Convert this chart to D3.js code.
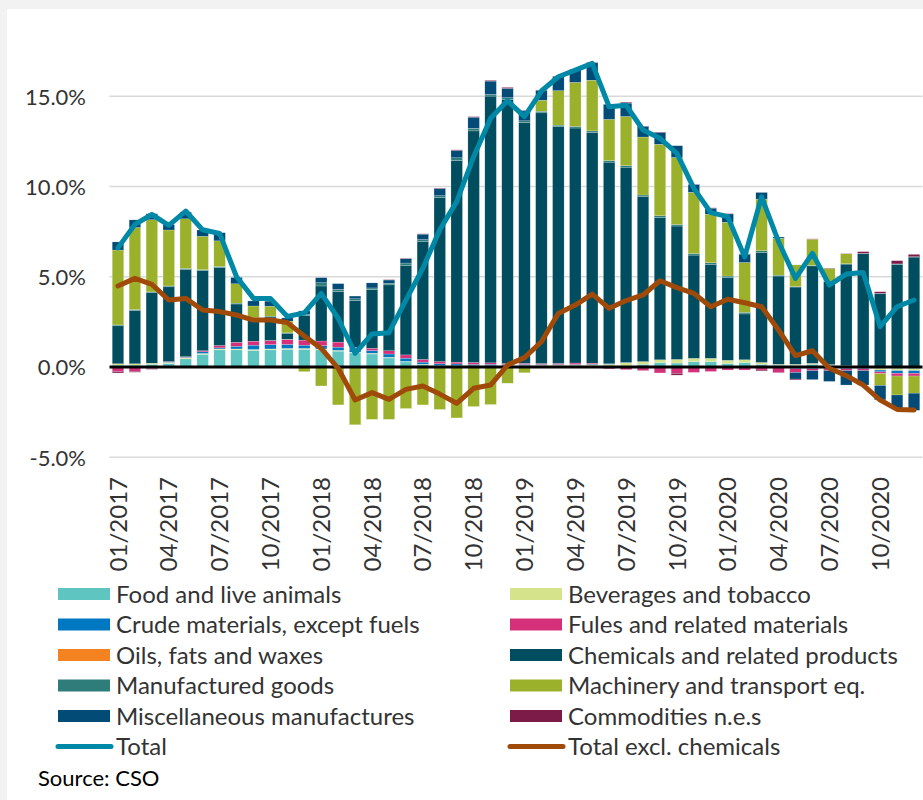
<!DOCTYPE html>
<html>
<head>
<meta charset="utf-8">
<script src="https://cdn.jsdelivr.net/npm/d3@7"></script>
<style>
  body { margin: 0; background: #f2f2f2; }
  svg { display: block; }
  .tick text { font-family: Lato, sans-serif; fill: #333; }
</style>
</head>
<body>
<div class="chart"></div>
<script>
// monthly categories 01/2017 .. 12/2020
var months = [];
[2017, 2018, 2019, 2020].forEach(function (y) {
  ["01","02","03","04","05","06","07","08","09","10","11","12"].forEach(function (m) {
    months.push(m + "/" + y);
  });
});
var tickLabels = months.filter(function (d, i) { return i % 3 == 0; });

// contributions to growth, percentage points
var food = [0.10,0.10,0.15,0.20,0.45,0.70,0.95,0.95,0.92,0.95,0.98,0.98,
  0.95,0.88,0.78,0.72,0.50,0.28,0.12,0.06,0.05,0.05,0.05,0.05,
  0.05,0.05,0.05,0.05,0.05,0.05,0.05,0.15,0.25,0.22,0.30,0.30,
  0.20,0.25,0.15,0.10,0.10,0.15,0.10,0.05,0.03,-0.07,-0.10,-0.10];
var beverages = [0.08,0.08,0.06,0.05,0.06,0.05,0.05,0.05,0.05,0.05,0.05,0.05,
  0.05,0.04,0.04,0.04,0.04,0.03,0.03,0.02,0.02,0.02,0.02,0.02,
  0.03,0.05,0.05,0.05,0.06,0.10,0.18,0.15,0.15,0.20,0.18,0.18,
  0.17,0.15,0.10,0.05,0.05,0.05,0.03,0.02,0.02,-0.10,-0.10,-0.10];
var crude = [0.00,-0.02,0.00,0.02,0.03,0.09,0.06,0.15,0.24,0.24,0.22,0.18,
  0.18,0.18,0.18,0.15,0.18,0.18,0.12,0.10,0.10,0.08,0.08,0.06,
  0.06,0.04,0.04,0.04,0.04,0.03,0.02,-0.05,-0.05,-0.05,-0.05,-0.05,
  -0.05,-0.05,-0.05,-0.05,-0.10,-0.10,-0.10,-0.10,-0.10,-0.10,-0.15,-0.15];
var fuels = [-0.25,-0.22,-0.10,0.03,0.03,0.06,0.13,0.22,0.22,0.22,0.28,0.28,
  0.26,0.28,0.09,0.13,0.18,0.18,0.15,0.12,0.10,0.10,0.08,0.06,
  0.06,0.05,0.06,0.08,0.06,-0.10,-0.15,-0.15,-0.28,-0.30,-0.25,-0.20,
  -0.12,-0.12,-0.12,-0.25,-0.20,-0.10,-0.10,-0.10,-0.10,-0.10,-0.15,-0.15];
var oils = [0,0,0,0,0,0,0,0,0,0.01,0.01,0,
  0,0,0,0,0,0,0,0,0,0,0,0,
  0,0,0,0,0,0,0,0,0,0,0,0,
  0,0,0,0,0,0,0,0,0,0,0,0];
var chemicals = [2.10,2.95,3.90,4.14,4.84,4.44,4.33,2.12,1.25,1.30,0.30,1.35,
  3.05,2.80,2.60,3.25,3.65,4.94,6.52,9.10,11.17,12.83,14.78,14.64,
  13.35,13.89,13.11,13.02,12.78,11.17,10.82,9.14,7.89,7.39,5.72,5.21,
  4.58,2.54,6.10,4.89,4.28,5.40,4.61,5.63,6.23,4.06,5.69,6.09];
var manufactured = [0.05,0.05,0.05,0.05,0.05,0.05,0.05,0.05,0.05,0.05,0.05,0.09,
  0.18,0.13,0.09,0.09,0.09,0.15,0.12,0.09,0.15,0.15,0.09,0.09,
  0.09,0.09,0.09,0.09,0.09,0.09,0.09,0.09,0.09,0.09,0.09,0.09,
  0.09,0.09,0.09,0.05,0.03,0.03,0.02,0.02,0.02,0.02,0.02,0.02];
var machinery = [4.15,4.55,4.00,3.10,2.75,1.85,1.42,1.07,0.65,0.55,0.65,-0.26,
  -1.05,-2.10,-3.20,-2.90,-2.90,-2.30,-2.10,-2.35,-2.82,-2.19,-2.08,-0.90,
  -0.32,0.61,1.91,2.44,2.81,2.28,2.72,3.21,3.96,3.71,3.39,2.69,
  2.98,2.76,2.86,2.04,1.20,1.45,0.70,0.55,0.00,-0.65,-1.05,-0.95];
var miscellaneous = [0.45,0.42,0.33,0.30,0.37,0.35,0.45,0.35,0.28,0.28,0.18,0.18,
  0.28,0.31,0.15,0.28,0.18,0.24,0.30,0.40,0.41,0.61,0.74,0.52,
  0.55,0.55,0.79,0.70,0.96,0.83,0.74,0.59,0.66,0.65,0.42,0.33,
  0.46,0.46,0.37,0.07,-0.37,-0.50,-0.60,-0.80,-0.80,-0.80,-0.78,-0.95];
var commodities = [-0.08,-0.05,-0.03,0,0,0,0,0,0,0,0,0,
  0,0,0,0,0.02,0.02,0.02,0.02,0.03,0.03,0.04,0.05,
  0.03,0.02,0.02,0.02,0.03,0.02,0.05,0.02,0.02,-0.10,0.02,0.02,
  0.02,0.02,-0.05,-0.03,-0.05,0.02,0.02,0.02,0.09,0.09,0.18,0.13];

var total = [6.60,7.90,8.45,7.85,8.64,7.60,7.40,5.00,3.80,3.80,2.80,3.00,
  4.08,2.70,0.76,1.83,1.90,3.70,5.47,7.60,9.16,11.65,13.78,14.75,
  13.87,15.29,16.08,16.45,16.82,14.42,14.50,13.13,12.67,11.84,9.90,8.55,
  8.33,6.10,9.43,6.94,4.91,6.30,4.54,5.15,5.23,2.23,3.34,3.71];
var totalExclChem = [4.49,4.91,4.58,3.71,3.80,3.16,3.07,2.88,2.60,2.60,2.46,1.72,
  1.03,-0.07,-1.83,-1.42,-1.79,-1.24,-1.05,-1.50,-2.01,-1.18,-1.00,0.11,
  0.52,1.40,2.97,3.43,4.04,3.25,3.68,3.99,4.78,4.40,4.08,3.34,
  3.75,3.56,3.34,2.05,0.63,0.90,-0.07,-0.48,-1.00,-1.83,-2.35,-2.38];

var yTicks = [-5, 0, 5, 10, 15];

// series definitions (stack order = legend order)
var series = [
  { key: "food", name: "Food and live animals", values: food, color: "#5ec5c1" },
  { key: "bev", name: "Beverages and tobacco", values: beverages, color: "#d5e38b" },
  { key: "crude", name: "Crude materials, except fuels", values: crude, color: "#0077c1" },
  { key: "fuels", name: "Fules and related materials", values: fuels, color: "#d5317b" },
  { key: "oils", name: "Oils, fats and waxes", values: oils, color: "#f58220" },
  { key: "chem", name: "Chemicals and related products", values: chemicals, color: "#004d5f" },
  { key: "manuf", name: "Manufactured goods", values: manufactured, color: "#2e7d7a" },
  { key: "mach", name: "Machinery and transport eq.", values: machinery, color: "#9cb12b" },
  { key: "misc", name: "Miscellaneous manufactures", values: miscellaneous, color: "#014b76" },
  { key: "comm", name: "Commodities n.e.s", values: commodities, color: "#7c1b48" }
];
var lines = [
  { name: "Total", values: total, color: "#0089a7" },
  { name: "Total excl. chemicals", values: totalExclChem, color: "#a04a0a" }
];

var svgWidth = 923;
var svgHeight = 800;

var svg = d3.select(".chart")
  .append("svg")
  .attr("width", svgWidth)
  .attr("height", svgHeight);

// white panel on grey page
svg.append("rect")
  .attr("x", 7)
  .attr("y", 9)
  .attr("width", svgWidth - 7)
  .attr("height", svgHeight - 9)
  .attr("fill", "#fff");

var plotLeft = 109.5, plotRight = 922.5;

var x = d3.scaleBand()
  .domain(months)
  .range([plotLeft, plotRight])
  .paddingInner(0.32)
  .paddingOuter(0.16);

var y = d3.scaleLinear()
  .domain([-5, 15])
  .range([457.25, 96.25]);

// gridlines
svg.append("g")
  .selectAll("line")
  .data(yTicks.filter(function (d) { return d != 0; }))
  .enter()
  .append("line")
  .attr("x1", plotLeft)
  .attr("x2", plotRight)
  .attr("y1", function (d) { return y(d); })
  .attr("y2", function (d) { return y(d); })
  .attr("stroke", "#d9d9d9")
  .attr("stroke-width", 1.5);

// stacked bars
var rows = months.map(function (m, i) {
  var r = { month: m };
  series.forEach(function (s) { r[s.key] = s.values[i]; });
  return r;
});

var stack = d3.stack()
  .keys(series.map(function (s) { return s.key; }))
  .offset(d3.stackOffsetDiverging);

var stacked = stack(rows);

svg.append("g")
  .selectAll("g")
  .data(stacked)
  .enter()
  .append("g")
  .attr("fill", function (d, i) { return series[i].color; })
  .selectAll("rect")
  .data(function (d) { return d; })
  .enter()
  .append("rect")
  .attr("x", function (d) { return x(d.data.month); })
  .attr("width", x.bandwidth())
  .attr("y", function (d) { return y(Math.max(d[0], d[1])); })
  .attr("height", function (d) { return Math.abs(y(d[0]) - y(d[1])); })
  .attr("stroke", "#fff")
  .attr("stroke-width", 0.4)
  .attr("stroke-opacity", 0.5);

// zero line
svg.append("line")
  .attr("x1", plotLeft)
  .attr("x2", plotRight)
  .attr("y1", y(0))
  .attr("y2", y(0))
  .attr("stroke", "#000")
  .attr("stroke-width", 3);

// total lines
var line = d3.line()
  .x(function (d, i) { return x(months[i]) + x.bandwidth() / 2; })
  .y(function (d) { return y(d); });

svg.append("g")
  .selectAll("path")
  .data(lines.slice().reverse())
  .enter()
  .append("path")
  .attr("d", function (d) { return line(d.values); })
  .attr("fill", "none")
  .attr("stroke", function (d) { return d.color; })
  .attr("stroke-width", 5)
  .attr("stroke-linejoin", "round")
  .attr("stroke-linecap", "round");

// y axis (plain hyphen for negatives, as in the source)
var yAxis = svg.append("g")
  .attr("transform", "translate(86,0)")
  .call(d3.axisLeft(y)
    .tickValues(yTicks)
    .tickSize(0)
    .tickPadding(0)
    .tickFormat(function (d) { return d.toFixed(1) + "%"; }));
yAxis.select(".domain").remove();
yAxis.selectAll("text")
  .attr("font-size", "22px")
  .attr("dy", "0.36em");

// x axis, labels every quarter
var xAxis = svg.append("g")
  .attr("transform", "translate(0,477)")
  .call(d3.axisBottom(x)
    .tickValues(tickLabels)
    .tickSize(0)
    .tickPadding(0));
xAxis.select(".domain").remove();
xAxis.selectAll("text")
  .attr("font-size", "24px")
  .attr("transform", "rotate(-90)")
  .attr("text-anchor", "end")
  .attr("x", 0)
  .attr("y", 0)
  .attr("dy", "0.36em");

// legend
var legend = svg.append("g")
  .attr("font-family", "Lato, sans-serif")
  .attr("font-size", "24px")
  .attr("fill", "#333");

var items = series.map(function (s) { return { name: s.name, color: s.color, type: "bar" }; })
  .concat(lines.map(function (l) { return { name: l.name, color: l.color, type: "line" }; }));

var item = legend.selectAll("g")
  .data(items)
  .enter()
  .append("g")
  .attr("transform", function (d, i) {
    var col = i % 2, row = Math.floor(i / 2);
    return "translate(" + (col ? 510 : 58) + "," + (594 + row * 30.5) + ")";
  });

item.filter(function (d) { return d.type == "bar"; })
  .append("rect")
  .attr("x", 0)
  .attr("y", -6)
  .attr("width", 52)
  .attr("height", 12)
  .attr("fill", function (d) { return d.color; });

item.filter(function (d) { return d.type == "line"; })
  .append("line")
  .attr("x1", 0)
  .attr("x2", 53)
  .attr("stroke", function (d) { return d.color; })
  .attr("stroke-width", 5)
  .attr("stroke-linecap", "round");

item.append("text")
  .attr("x", 58)
  .attr("dy", "0.36em")
  .text(function (d) { return d.name; });

svg.append("text")
  .attr("x", 38)
  .attr("y", 786)
  .attr("font-family", "Lato, sans-serif")
  .attr("font-size", "22px")
  .attr("fill", "#000")
  .text("Source: CSO");
</script>
</body>
</html>
